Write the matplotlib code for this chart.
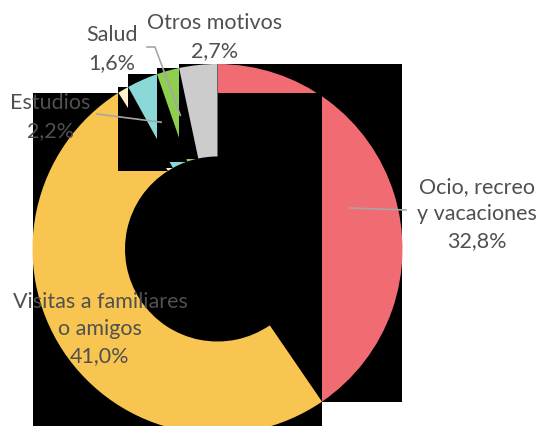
import numpy as np
import matplotlib.pyplot as plt
from matplotlib.patches import Rectangle

# ==========================================
# DATA
# ==========================================
categories = ['Ocio, recreo\ny vacaciones', 'Visitas a familiares\no amigos', '',
              'Estudios', 'Salud', 'Otros motivos']
shares = [32.8, 41.0, 0.8, 2.2, 1.6, 2.7]
pct_labels = ['32,8%', '41,0%', '', '2,2%', '1,6%', '2,7%']
colors = ['#F16B73', '#F9C551', '#FFF2CC', '#8AD9D8', '#8FCF50', '#CDCCCD']

# ==========================================
# FIGURE (axes in pixel-like units, y measured upward)
# ==========================================
W, H = 538, 427
fig = plt.figure(figsize=(W / 100, H / 100), dpi=100)
ax = fig.add_axes([0, 0, 1, 1])

cx, cy, R = 217.5, H - 250, 185

wedges, _ = ax.pie(shares, colors=colors, startangle=90, counterclock=False,
                   radius=R, center=(cx, cy), wedgeprops=dict(width=R / 2, linewidth=0))

# each slice sits on a black box the size of its own extent, stacked in order
for i, w in enumerate(wedges):
    ext = w.get_path().get_extents()
    ax.add_patch(Rectangle((ext.x0, ext.y0), ext.width, ext.height,
                           facecolor='black', edgecolor='none', zorder=2 * i + 1))
    w.set_zorder(2 * i + 2)

ax.set_xlim(0, W)
ax.set_ylim(0, H)
ax.set_aspect('equal')
ax.axis('off')

# ==========================================
# LABELS
# ==========================================
def ring_mid(w):
    a = np.deg2rad((w.theta1 + w.theta2) / 2)
    r = 0.75 * R
    return cx + r * np.cos(a), cy + r * np.sin(a)

txt = dict(fontsize=15.5, color='#505050', ha='center', va='center',
           family=['Lato', 'DejaVu Sans'], linespacing=1.45, zorder=30)
label_pos = {0: (477, 214), 1: (100, 329), 3: (50, 117), 4: (112, 49), 5: (215, 37)}
for i, (x, y) in label_pos.items():
    ax.text(x, H - y, f'{categories[i]}\n{pct_labels[i]}', **txt)

lead = dict(color='#A6A6A6', lw=1.2, zorder=29)
mx, my = ring_mid(wedges[0])
ax.plot([mx, 406], [my, H - 211], **lead)
mx, my = ring_mid(wedges[3])
ax.plot([mx, 97], [my, H - 115], **lead)
mx, my = ring_mid(wedges[4])
ax.plot([mx, 155, 147], [my, H - 48, H - 48], **lead)

plt.savefig('out.png', dpi=100)
